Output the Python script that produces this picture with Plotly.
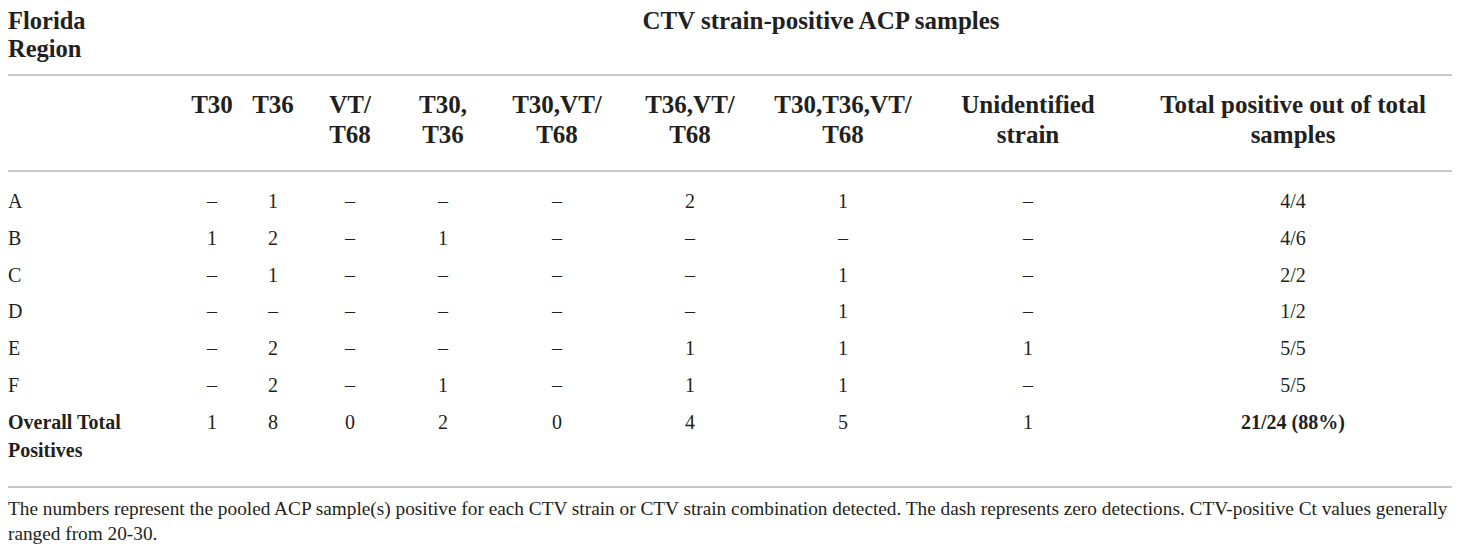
import plotly.graph_objects as go

# ---- data ----
regions = ["A", "B", "C", "D", "E", "F"]
total_label = ["Overall Total", "Positives"]
header_left = ["Florida", "Region"]
group_title = "CTV strain-positive ACP samples"
col_top = ["T30", "T36", "VT/", "T30,", "T30,VT/", "T36,VT/", "T30,T36,VT/", "Unidentified", "Total positive out of total"]
col_bottom = ["", "", "T68", "T36", "T68", "T68", "T68", "strain", "samples"]

D = "\u2013"
t30 = [D, "1", D, D, D, D]
t36 = ["1", "2", "1", D, "2", "2"]
vt_t68 = [D, D, D, D, D, D]
t30_t36 = [D, "1", D, D, D, "1"]
t30_vt = [D, D, D, D, D, D]
t36_vt = ["2", D, D, D, "1", "1"]
t30_t36_vt = ["1", D, "1", "1", "1", "1"]
unidentified = [D, D, D, D, "1", D]
total_pos = ["4/4", "4/6", "2/2", "1/2", "5/5", "5/5"]
overall = ["1", "8", "0", "2", "0", "4", "5", "1", "21/24 (88%)"]

footnote = [
    "The numbers represent the pooled ACP sample(s) positive for each CTV strain or CTV strain combination detected. The dash represents zero detections. CTV-positive Ct values generally",
    "ranged from 20-30.",
]

# ---- layout constants (page pixel coordinates) ----
W, H = 1460, 553
PAGE_MARGIN = 8  # default body margin of the html page
col_x = [212, 273, 350, 443, 557, 690, 843, 1028, 1293]
left_x = 8
y_head1 = [23, 51]
y_group = 23
y_head2 = [107, 137]
y_rows = [203, 240, 277, 313, 350, 387]
y_total = [424, 452]
y_foot = [510, 535]
rules_y = [75, 171, 487]
FONT = "Liberation Serif"
TXT = "#231f20"

columns = [t30, t36, vt_t68, t30_t36, t30_vt, t36_vt, t30_t36_vt, unidentified, total_pos]

fig = go.Figure()

def text_trace(xs, ys, texts, size, bold=False, pos="middle center"):
    t = [f"<b>{s}</b>" if bold and s else s for s in texts]
    fig.add_trace(go.Scatter(
        x=xs, y=ys, text=t, mode="text", textposition=pos, cliponaxis=False,
        textfont=dict(family=FONT, size=size, color=TXT),
        hoverinfo="skip", showlegend=False,
    ))

# left header
text_trace([left_x] * 2, y_head1, header_left, 24.5, bold=True, pos="middle right")
# group title
text_trace([821], [y_group], [group_title], 25, bold=True)
# column headers
text_trace(col_x, [y_head2[0]] * len(col_x), col_top, 25, bold=True)
text_trace(col_x, [y_head2[1]] * len(col_x), col_bottom, 25, bold=True)
# region labels
text_trace([left_x] * len(regions), y_rows, regions, 20, pos="middle right")
# data cells
for cx, vals in zip(col_x, columns):
    text_trace([cx] * len(vals), y_rows, vals, 20)
# totals
text_trace([left_x] * 2, y_total, total_label, 20, bold=True, pos="middle right")
text_trace(col_x[:-1], [y_total[0]] * (len(col_x) - 1), overall[:-1], 20)
text_trace([col_x[-1]], [y_total[0]], [overall[-1]], 20, bold=True)
# footnote
text_trace([left_x] * 2, y_foot, footnote, 19.3, pos="middle right")

shapes = [dict(type="line", xref="x", yref="y", x0=5, x1=1453, y0=ry, y1=ry,
               line=dict(color="#c8c8c8", width=2)) for ry in rules_y]

fig.update_layout(
    width=W - PAGE_MARGIN, height=H - PAGE_MARGIN, margin=dict(l=0, r=0, t=0, b=0),
    paper_bgcolor="white", plot_bgcolor="white",
    xaxis=dict(range=[PAGE_MARGIN, W], visible=False, fixedrange=True),
    yaxis=dict(range=[H, PAGE_MARGIN], visible=False, fixedrange=True),
    shapes=shapes,
)
fig.write_html("out.html")
